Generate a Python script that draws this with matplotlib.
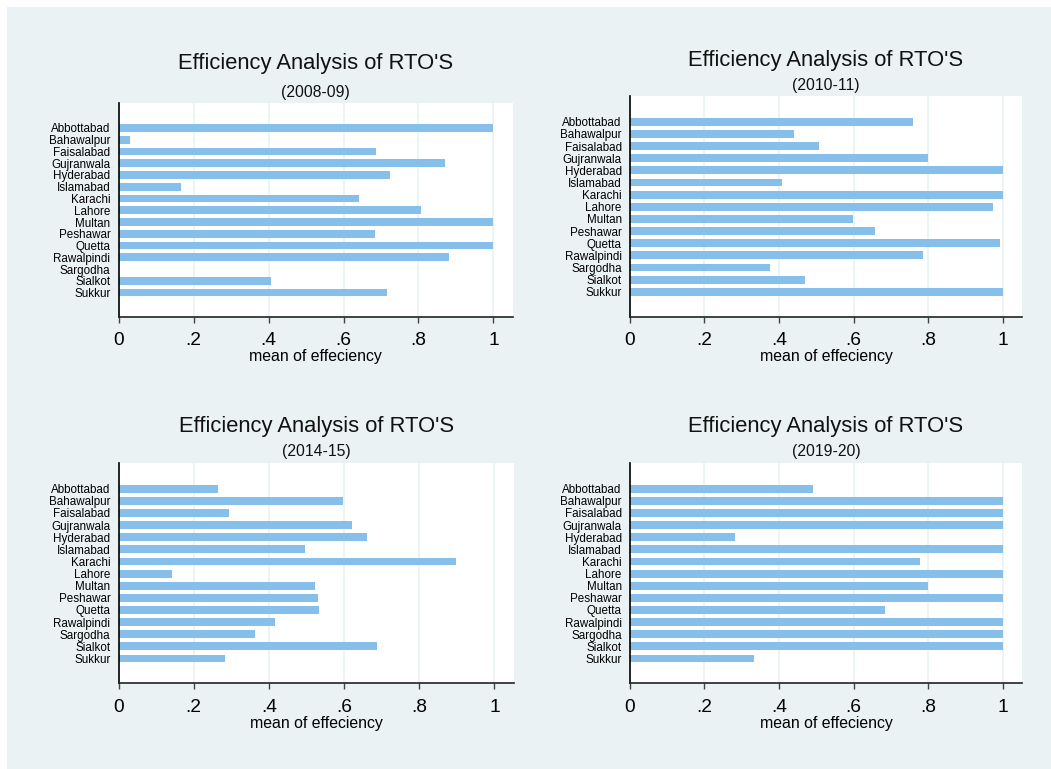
import matplotlib
matplotlib.use('Agg')
import matplotlib.pyplot as plt
from matplotlib.patches import Rectangle
import numpy as np

plt.rcParams['font.family'] = ['Liberation Sans', 'DejaVu Sans']

# RTO names (same order in every panel)
rtos = ['Abbottabad', 'Bahawalpur', 'Faisalabad', 'Gujranwala', 'Hyderabad',
        'Islamabad', 'Karachi', 'Lahore', 'Multan', 'Peshawar', 'Quetta',
        'Rawalpindi', 'Sargodha', 'Sialkot', 'Sukkur']

years = ['(2008-09)', '(2010-11)', '(2014-15)', '(2019-20)']

# mean efficiency scores per year
eff_2008 = [1.0, 0.031, 0.687, 0.871, 0.724, 0.166, 0.642, 0.807, 1.0, 0.685,
            1.0, 0.881, 0.0, 0.407, 0.717]
eff_2010 = [0.758, 0.441, 0.508, 0.798, 1.0, 0.408, 1.0, 0.973, 0.599, 0.656,
            0.992, 0.786, 0.377, 0.469, 1.0]
eff_2014 = [0.264, 0.597, 0.293, 0.622, 0.662, 0.495, 0.899, 0.141, 0.524, 0.530,
            0.533, 0.417, 0.362, 0.687, 0.283]
eff_2019 = [0.491, 1.0, 1.0, 1.0, 0.281, 1.0, 0.778, 1.0, 0.798, 1.0,
            0.685, 1.0, 1.0, 1.0, 0.332]

x_ticks = [0, 0.2, 0.4, 0.6, 0.8, 1.0]
x_tick_labels = ['0', '.2', '.4', '.6', '.8', '1']

W, H = 1051, 769
bg = '#eaf2f3'
bar_color = '#85bfea'

# panel boxes in pixels: left, right, top, bottom, title baseline, subtitle baseline
panels = [
    (118.5, 513, 103, 316.7, 68.9, 96.5),
    (629.7, 1022.3, 96, 316.7, 66.3, 89.7),
    (118.5, 514, 463, 683.3, 431.6, 455.7),
    (629.7, 1022.3, 463, 683.3, 431.6, 455.7),
]


def draw_panel(fig, box, values, subtitle):
    left, right, top, bottom, t_base, s_base = box
    ax = fig.add_axes([left / W, 1 - bottom / H, (right - left) / W, (bottom - top) / H])
    ax.set_facecolor('white')
    ax.set_axisbelow(True)

    pos = np.arange(len(rtos))
    ax.barh(pos, values, height=0.65, color=bar_color, linewidth=0)

    ax.set_ylim(len(rtos) - 1 + 2.05, -2.12)
    ax.set_xlim(0, 1.052)
    ax.set_yticks(pos)
    ax.set_yticklabels(rtos, fontsize=8.4)
    ax.tick_params(axis='y', length=0, pad=5.8)
    ax.set_xticks(x_ticks)
    ax.set_xticklabels(x_tick_labels, fontsize=13.8)
    ax.tick_params(axis='x', length=4.3, width=1, color='#444444', pad=7.0)
    ax.grid(axis='x', color=bg, linewidth=1.2)

    for side in ['top', 'right']:
        ax.spines[side].set_visible(False)
    ax.spines['left'].set_color('black')
    ax.spines['left'].set_linewidth(1.2)
    ax.spines['bottom'].set_color('#222222')
    ax.spines['bottom'].set_linewidth(1.2)

    ax.set_xlabel('mean of effeciency', fontsize=11.4, labelpad=0)

    cx = (left + right) / 2 / W
    fig.text(cx, 1 - t_base / H, "Efficiency Analysis of RTO'S", fontsize=15.8,
             ha='center', va='baseline', color='#111111')
    fig.text(cx, 1 - s_base / H, subtitle, fontsize=11.3,
             ha='center', va='baseline', color='#111111')
    return ax


fig = plt.figure(figsize=(W / 100, H / 100), dpi=100, facecolor='white')
fig.patches.append(Rectangle((7 / W, 0), 1, 1 - 7 / H, transform=fig.transFigure,
                             facecolor=bg, edgecolor='none', zorder=-1))

all_values = [eff_2008, eff_2010, eff_2014, eff_2019]
for box, vals, yr in zip(panels, all_values, years):
    draw_panel(fig, box, vals, yr)

fig.savefig('out.png', dpi=100, facecolor=fig.get_facecolor())
